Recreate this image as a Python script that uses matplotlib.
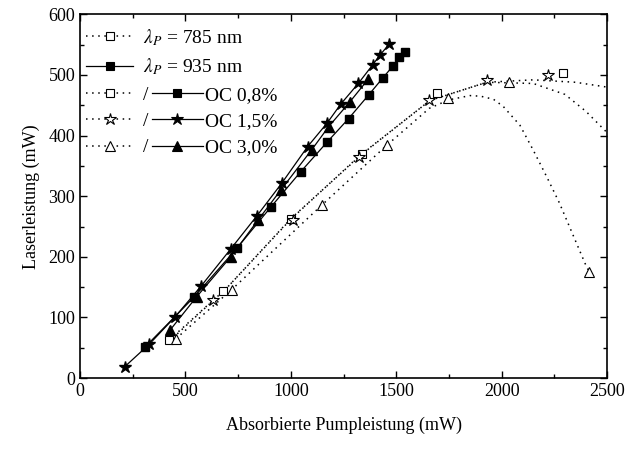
import matplotlib
matplotlib.use("Agg")
import matplotlib.pyplot as plt
from matplotlib.lines import Line2D
from matplotlib.ticker import MultipleLocator

plt.rcParams['font.family'] = ['Liberation Serif', 'DejaVu Serif']
plt.rcParams['mathtext.fontset'] = 'stix'

# 935 nm pumping (filled markers, solid lines)
x935_08 = [308, 542, 746, 905, 1046, 1174, 1274, 1369, 1436, 1485, 1515, 1543]
y935_08 = [51, 134, 215, 282, 340, 390, 428, 467, 495, 515, 529, 538]
x935_15 = [213, 329, 451, 575, 715, 840, 956, 1080, 1173, 1237, 1320, 1389, 1423, 1467]
y935_15 = [19, 56, 101, 152, 213, 268, 321, 382, 421, 452, 486, 517, 533, 551]
x935_30 = [427, 553, 715, 843, 952, 1100, 1180, 1281, 1367]
y935_30 = [79, 134, 200, 260, 310, 377, 415, 456, 493]

# 785 nm pumping (open markers)
x785_08 = [424, 680, 1000, 1340, 1692, 2293]
y785_08 = [63, 144, 263, 370, 470, 503]
x785_15 = [629, 1012, 1325, 1657, 1929, 2219]
y785_15 = [129, 260, 365, 459, 492, 500]
x785_30 = [455, 720, 1146, 1455, 1747, 2035, 2416]
y785_30 = [65, 146, 285, 385, 462, 489, 175]

# dotted fit curves
xfit_08 = [424, 700, 1000, 1340, 1660, 1930, 2150, 2350, 2500]
yfit_08 = [63, 150, 263, 370, 458, 488, 492, 488, 480]
xfit_15 = [440, 700, 1000, 1330, 1660, 1930, 2150, 2300, 2400, 2500]
yfit_15 = [66, 150, 262, 368, 458, 488, 486, 468, 440, 405]
xfit_30 = [455, 720, 1146, 1455, 1657, 1750, 1850, 1900, 1961, 2008, 2087, 2150, 2214, 2274, 2396, 2416]
yfit_30 = [65, 146, 285, 384, 445, 459, 466, 465, 460, 448, 417, 376, 332, 289, 189, 175]

fig = plt.figure(figsize=(6.31, 4.49), dpi=100)
ax = fig.add_axes([0.1268, 0.158, 0.8352, 0.81])

fs = 13
lfs = 14
ms_sq, ms_st, ms_tr = 6, 9, 7.5
dots = (0, (1, 3))

# solid 935 nm curves
ax.plot(x935_08, y935_08, '-', color='black', lw=0.9, marker='s', ms=ms_sq)
ax.plot(x935_15, y935_15, '-', color='black', lw=0.9, marker='*', ms=ms_st)
ax.plot(x935_30, y935_30, '-', color='black', lw=0.9, marker='^', ms=ms_tr)

# dotted fits for 785 nm
for xf, yf in [(xfit_08, yfit_08), (xfit_15, yfit_15), (xfit_30, yfit_30)]:
    ax.plot(xf, yf, ls=dots, color='black', lw=1.1)

ax.plot(x785_08, y785_08, 's', mfc='white', mec='black', mew=0.8, ms=ms_sq, ls='none')
ax.plot(x785_15, y785_15, '*', mfc='white', mec='black', mew=0.8, ms=ms_st, ls='none')
ax.plot(x785_30, y785_30, '^', mfc='white', mec='black', mew=0.8, ms=ms_tr, ls='none')

ax.set_xlim(0, 2500)
ax.set_ylim(0, 600)
ax.xaxis.set_major_locator(MultipleLocator(500))
ax.xaxis.set_minor_locator(MultipleLocator(250))
ax.yaxis.set_major_locator(MultipleLocator(100))
ax.yaxis.set_minor_locator(MultipleLocator(50))
ax.tick_params(which='both', direction='in', top=True, right=True, labelsize=fs, width=1)
ax.tick_params(which='major', length=5)
ax.tick_params(which='minor', length=3)
for s in ax.spines.values():
    s.set_linewidth(1.2)

ax.set_xlabel('Absorbierte Pumpleistung (mW)', fontsize=fs, labelpad=12)
ax.set_ylabel('Laserleistung (mW)', fontsize=fs, labelpad=6)


# legend, built from two legends placed side by side
def h(marker, filled, ls, ms):
    return Line2D([], [], color='black', ls=ls, lw=0.9 if ls == '-' else 1.1, marker=marker,
                  mfc='black' if filled else 'white', mec='black', mew=0.8, ms=ms)


hA = [h('s', False, dots, ms_sq), h('s', True, '-', ms_sq),
      h('s', False, dots, ms_sq), h('*', False, dots, ms_st), h('^', False, dots, ms_tr)]
labA = [r'$\lambda_P$ = 785 nm', r'$\lambda_P$ = 935 nm', '/', '/', '/']
legA = ax.legend(hA, labA, loc='upper left', bbox_to_anchor=(0.012, 0.965),
                 frameon=False, fontsize=lfs, handlelength=2.4, handletextpad=0.5,
                 labelspacing=0.45, borderaxespad=0, borderpad=0, numpoints=1)
ax.add_artist(legA)

hB = [h('s', True, '-', ms_sq), h('*', True, '-', ms_st), h('^', True, '-', ms_tr)]
labB = ['OC 0,8%', 'OC 1,5%', 'OC 3,0%']

fig.canvas.draw()
r = fig.canvas.get_renderer()
inv = ax.transAxes.inverted()
slash = legA.get_texts()[2].get_window_extent(r)
x0, ytop = inv.transform((slash.x1 + 4, slash.y1))

legB = ax.legend(hB, labB, loc='upper left', bbox_to_anchor=(x0, ytop), frameon=False,
                 fontsize=lfs, handlelength=2.6, handletextpad=0.1, labelspacing=0.45,
                 borderaxespad=0, borderpad=0, numpoints=1)
fig.canvas.draw()
oc = legB.get_texts()[0].get_window_extent(r)
dy = (slash.y1 - oc.y1) / ax.bbox.height
legB.set_bbox_to_anchor((x0, ytop + dy), transform=ax.transAxes)

fig.savefig('out.png', dpi=100)
